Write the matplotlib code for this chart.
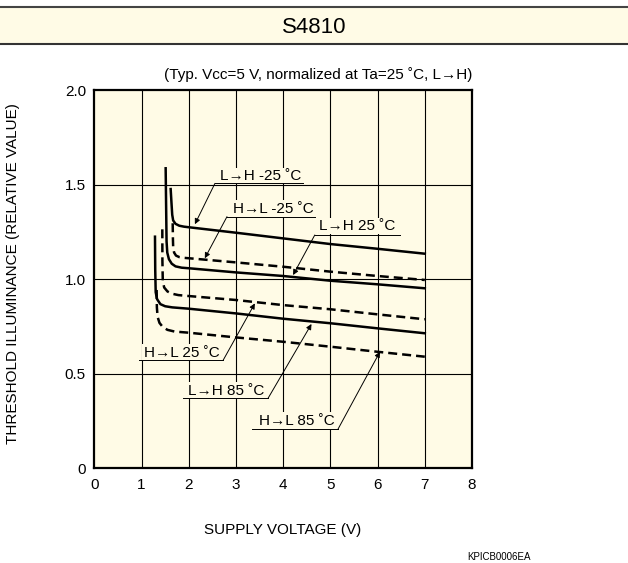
import matplotlib
matplotlib.use('Agg')
from matplotlib import pyplot as plt
from matplotlib.lines import Line2D
from matplotlib.patches import Rectangle

plt.rcParams['font.family'] = ['Liberation Sans', 'DejaVu Sans']

# 読み取った値 (Vcc [V], 相対しきい値照度)
vcc_lh_m25 = [1.617, 1.635, 1.65, 1.67, 1.72, 1.80, 1.90, 2.0, 3.0, 4.0, 5.0, 6.0, 7.0]
thr_lh_m25 = [1.476, 1.40, 1.34, 1.31, 1.292, 1.282, 1.277, 1.274, 1.245, 1.215, 1.185, 1.160, 1.134]

vcc_hl_m25 = [1.66, 1.665, 1.67, 1.69, 1.73, 1.80, 1.90, 2.0, 3.0, 4.0, 5.0, 6.0, 7.0]
thr_hl_m25 = [1.295, 1.21, 1.17, 1.14, 1.124, 1.116, 1.112, 1.110, 1.088, 1.065, 1.039, 1.016, 0.995]

vcc_lh_25 = [1.511, 1.52, 1.53, 1.545, 1.58, 1.64, 1.72, 1.85, 2.0, 3.0, 4.0, 5.0, 6.0, 7.0]
thr_lh_25 = [1.586, 1.40, 1.20, 1.14, 1.105, 1.081, 1.067, 1.060, 1.057, 1.035, 1.016, 0.991, 0.972, 0.951]

vcc_hl_25 = [1.44, 1.442, 1.45, 1.48, 1.55, 1.65, 1.78, 2.0, 3.0, 4.0, 5.0, 6.0, 7.0]
thr_hl_25 = [1.263, 1.10, 0.99, 0.955, 0.934, 0.922, 0.915, 0.910, 0.889, 0.862, 0.840, 0.813, 0.787]

vcc_lh_85 = [1.285, 1.29, 1.30, 1.33, 1.40, 1.50, 1.65, 1.80, 2.0, 3.0, 4.0, 5.0, 6.0, 7.0]
thr_lh_85 = [1.224, 1.05, 0.93, 0.893, 0.867, 0.856, 0.850, 0.847, 0.843, 0.818, 0.790, 0.766, 0.739, 0.713]

vcc_hl_85 = [1.32, 1.325, 1.34, 1.38, 1.45, 1.55, 1.70, 2.0, 3.0, 4.0, 5.0, 6.0, 7.0]
thr_hl_85 = [0.942, 0.85, 0.80, 0.768, 0.746, 0.731, 0.722, 0.716, 0.691, 0.668, 0.642, 0.615, 0.589]

x_ticks = [0, 1, 2, 3, 4, 5, 6, 7, 8]
y_ticks = [0, 0.5, 1.0, 1.5, 2.0]
y_ticklabels = ['0', '0.5', '1.0', '1.5', '2.0']

cream = '#fffbe6'
dash = (0, (3.6, 2.0))

fig = plt.figure(figsize=(6.28, 5.63), dpi=100)

# ヘッダー帯
fig.add_artist(Rectangle((0, 0.9218), 1, 0.0652, transform=fig.transFigure,
                         facecolor=cream, edgecolor='none'))
fig.add_artist(Line2D([0, 1], [0.987, 0.987], transform=fig.transFigure, color='#444444', lw=1.5))
fig.add_artist(Line2D([0, 1], [0.9218, 0.9218], transform=fig.transFigure, color='#333333', lw=1.5))
fig.text(0.5, 0.951, 'S4810', ha='center', va='center', fontsize=16)

ax = fig.add_axes([0.1502, 0.1687, 0.6014, 0.6714])
ax.set_facecolor(cream)
ax.set_xlim(0, 8)
ax.set_ylim(0, 2)
ax.set_xticks(x_ticks)
ax.set_yticks(y_ticks)
ax.set_yticklabels(y_ticklabels)
ax.tick_params(length=0, labelsize=11)
ax.tick_params(axis='x', pad=7)
ax.tick_params(axis='y', pad=6)
for s in ax.spines.values():
  s.set_linewidth(1.6)
for xv in x_ticks[1:-1]:
  ax.axvline(xv, color='black', lw=0.8, zorder=1)
for yv in y_ticks[1:-1]:
  ax.axhline(yv, color='black', lw=0.8, zorder=1)

lw = 1.8
ax.plot(vcc_lh_m25, thr_lh_m25, '-', color='black', lw=lw, zorder=3)
ax.plot(vcc_hl_m25, thr_hl_m25, color='black', lw=lw, linestyle=dash, zorder=3)
ax.plot(vcc_lh_25, thr_lh_25, '-', color='black', lw=lw, zorder=3)
ax.plot(vcc_hl_25, thr_hl_25, color='black', lw=lw, linestyle=dash, zorder=3)
ax.plot(vcc_lh_85, thr_lh_85, '-', color='black', lw=lw, zorder=3)
ax.plot(vcc_hl_85, thr_hl_85, color='black', lw=lw, linestyle=dash, zorder=3)

# ラベル: 文字, 文字中心, 下線(左,右,y), 引出線の始点, 矢印の先
labels = [
  ('L→H -25 ˚C', (3.53, 1.545), (2.555, 4.42, 1.506), (2.555, 1.506), (2.13, 1.29)),
  ('H→L -25 ˚C', (3.80, 1.372), (2.81, 4.67, 1.33), (2.81, 1.33), (2.34, 1.11)),
  ('L→H 25 ˚C', (5.57, 1.28), (4.67, 6.47, 1.233), (4.67, 1.233), (4.21, 1.021)),
  ('H→L 25 ˚C', (1.85, 0.61), (0.95, 2.73, 0.571), (2.73, 0.571), (3.40, 0.871)),
  ('L→H 85 ˚C', (2.80, 0.409), (1.88, 3.68, 0.369), (3.68, 0.369), (4.60, 0.762)),
  ('H→L 85 ˚C', (4.28, 0.25), (3.35, 5.16, 0.205), (5.16, 0.205), (6.05, 0.615)),
]
for txt, pos, ul, start, tip in labels:
  ax.text(pos[0], pos[1], txt, ha='center', va='center', fontsize=11, zorder=4,
          bbox=dict(facecolor=cream, edgecolor='none', pad=1.0))
  ax.plot([ul[0], ul[1]], [ul[2], ul[2]], color='black', lw=0.7, zorder=4)
  ax.annotate('', xy=tip, xytext=start, zorder=4,
              arrowprops=dict(arrowstyle='-|>', color='black', lw=0.7,
                              mutation_scale=8, shrinkA=0, shrinkB=0))

ax.text(1.0, 1.02, '(Typ. Vcc=5 V, normalized at Ta=25 ˚C, L→H)', transform=ax.transAxes,
        ha='right', va='bottom', fontsize=11)

fig.text(0.021, 0.514, 'THRESHOLD ILLUMINANCE (RELATIVE VALUE)', rotation=90,
         ha='center', va='center', fontsize=11)
fig.text(0.4506, 0.0586, 'SUPPLY VOLTAGE (V)', ha='center', va='center', fontsize=11)
fig.text(0.795, 0.011, 'KPICB0006EA', ha='center', va='center', fontsize=7,
         family=['Liberation Sans Narrow', 'Liberation Sans', 'DejaVu Sans'])

fig.savefig('out.png', dpi=100)
